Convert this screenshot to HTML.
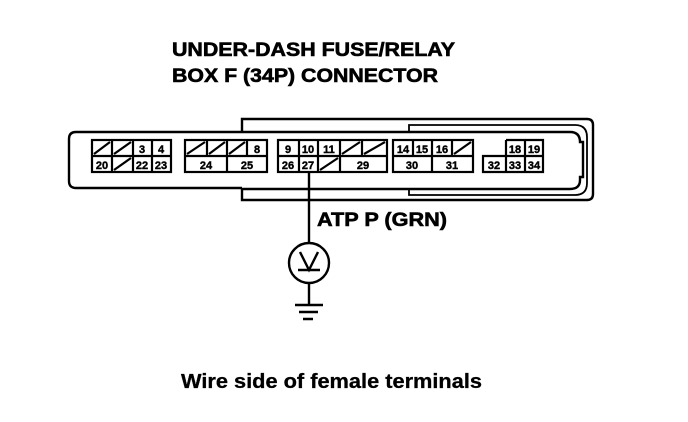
<!DOCTYPE html>
<html><head><style>html,body{margin:0;padding:0;background:#fff;}svg{display:block}</style></head>
<body>
<svg width="688" height="422" viewBox="0 0 688 422" xmlns="http://www.w3.org/2000/svg" font-family="Liberation Sans, Arial, sans-serif">
<rect width="688" height="422" fill="#fff"/>
<g font-weight="bold" font-size="19" stroke="#000" stroke-width="0.6">
<text x="172" y="56" textLength="283" lengthAdjust="spacingAndGlyphs">UNDER-DASH FUSE/RELAY</text>
<text x="172" y="82" textLength="266" lengthAdjust="spacingAndGlyphs">BOX F (34P) CONNECTOR</text>
<text x="317" y="226" font-size="19" textLength="130" lengthAdjust="spacingAndGlyphs">ATP P (GRN)</text>
</g>
<text x="181" y="388" font-size="20" font-weight="bold" stroke="#000" stroke-width="0.3" textLength="301" lengthAdjust="spacingAndGlyphs">Wire side of female terminals</text>
<g fill="none" stroke="#000" stroke-width="2.4">
<path d="M242 132 V119 H587 Q593 119 593 125 V194 Q593 200 587 200 H242 V188"/>
<path d="M242 132 H76 Q69 132 69 139 V181 Q69 188 76 188 H242"/>
<path d="M242 132 H570 Q580 132 580 142 H583 V177 H580 V180 Q580 189 570 189 H242"/>
<path d="M409 132 V125 H575 Q587 125 587 137 V183 Q587 195 575 195 H409 V189" stroke-width="1.8"/>
<path d="M309 172 V243 M309 283 V305 M295 305 H323 M299 312 H318 M303 319 H313"/>
<circle cx="309" cy="263" r="20"/>
<path d="M300 252 L309 270 L318 252 M298 270 H320"/>
</g>
<g fill="none" stroke="#000" stroke-width="2.2">
<rect x="92" y="140" width="79" height="32"/>
<path d="M92 156 H171 M112 140 V172 M133 140 V172 M152 140 V172"/>
<path d="M94 154 L110 142 M114 154 L131 142 M114 170 L131 158"/>
<rect x="185" y="140" width="82" height="32"/>
<path d="M185 156 H267 M207 140 V156 M227 140 V172 M247 140 V156"/>
<path d="M187 154 L205 142 M209 154 L225 142 M229 154 L245 142"/>
<rect x="278" y="140" width="109" height="32"/>
<path d="M278 156 H387 M299 140 V172 M318 140 V172 M340 140 V172 M362 140 V156"/>
<path d="M342 154 L360 142 M364 154 L385 142 M320 170 L338 158"/>
<rect x="393" y="140" width="80" height="32"/>
<path d="M393 156 H473 M413 140 V156 M432 140 V172 M452 140 V156"/>
<path d="M454 154 L471 142"/>
<path d="M506 140 H543 V172 H483 V156 H543 M506 140 V172 M525 140 V172"/>
</g>
<g font-weight="bold" font-size="11" text-anchor="middle" stroke="#000" stroke-width="0.4">
<text x="142" y="153">3</text><text x="161" y="153">4</text>
<text x="102" y="169">20</text><text x="142" y="169">22</text><text x="161" y="169">23</text>
<text x="257" y="153">8</text>
<text x="206" y="169">24</text><text x="247" y="169">25</text>
<text x="288" y="153">9</text><text x="308" y="153">10</text><text x="329" y="153">11</text>
<text x="288" y="169">26</text><text x="308" y="169">27</text><text x="363" y="169">29</text>
<text x="403" y="153">14</text><text x="422" y="153">15</text><text x="442" y="153">16</text>
<text x="412" y="169">30</text><text x="452" y="169">31</text>
<text x="515" y="153">18</text><text x="534" y="153">19</text>
<text x="494" y="169">32</text><text x="515" y="169">33</text><text x="534" y="169">34</text>
</g>
</svg>
</body></html>
